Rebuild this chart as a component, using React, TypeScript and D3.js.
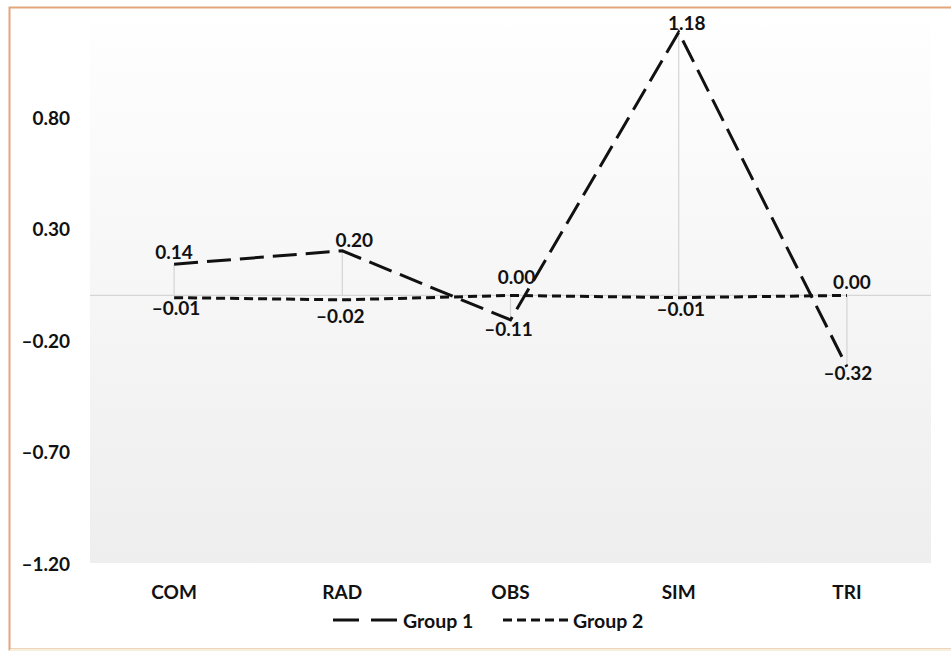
import React from "react";
import * as d3 from "d3";

// Categories, series values and axis ticks
const categories = ["COM", "RAD", "OBS", "SIM", "TRI"];
const group1 = [0.14, 0.2, -0.11, 1.18, -0.32];
const group2 = [-0.01, -0.02, 0.0, -0.01, 0.0];
const yTicks = [-1.2, -0.7, -0.2, 0.3, 0.8];
const seriesNames = ["Group 1", "Group 2"];

// Label nudges (dx, dy) so that labels sit clear of the lines
const g1LabelOffsets: [number, number][] = [[0, -13], [12, -11], [-2, 9], [8, -10], [1, 6]];
const g2LabelOffsets: [number, number][] = [[2, 10], [-2, 16], [6, -19], [2, 11], [5, -14]];

const W = 951;
const H = 652;
const plot = { left: 90, right: 931, top: 25, bottom: 563 };
const FONT = "Lato, 'Open Sans', sans-serif";

export default function App() {
  const x = d3.scaleBand<string>().domain(categories).range([plot.left, plot.right]);
  const cx = (c: string) => (x(c) as number) + x.bandwidth() / 2;
  const y = d3.scaleLinear().domain([-1.2, 0.8]).range([plot.bottom, 117]);

  const line = d3
    .line<number>()
    .x((_, i) => cx(categories[i]))
    .y((v) => y(v));

  const g1Dash = "24 9";
  const g2Dash = "9 5";
  const fmt = d3.format(".2f");
  const lbl = (v: number) => (v < 0 ? "\u2013" + fmt(-v) : fmt(v));

  return (
    <svg
      width={W}
      height={H}
      style={{ position: "absolute", left: 0, top: 0, background: "#fff" }}
      fontFamily={FONT}
    >
      <defs>
        <linearGradient id="plotBg" x1="0" y1="0" x2="0" y2="1">
          <stop offset="0" stopColor="#fefefe" />
          <stop offset="1" stopColor="#eeeeee" />
        </linearGradient>
      </defs>
      <rect x={0} y={0} width={W} height={H} fill="#fff" />
      {/* outer frame */}
      <rect x={9.5} y={7.5} width={W + 10} height={642} fill="none" stroke="#e3a67a" strokeWidth={2} />
      <line x1={10} x2={W} y1={650} y2={650} stroke="#f4f0dc" strokeWidth={2} />

      {/* plot area */}
      <rect
        x={plot.left}
        y={plot.top}
        width={plot.right - plot.left}
        height={plot.bottom - plot.top}
        fill="url(#plotBg)"
      />

      {/* zero line */}
      <line x1={plot.left} x2={plot.right} y1={y(0)} y2={y(0)} stroke="#d6d6d6" strokeWidth={1.2} />

      {/* drop lines */}
      {categories.map((c, i) => (
        <line key={c} x1={cx(c)} x2={cx(c)} y1={y(0)} y2={y(group1[i])} stroke="#d4d4d4" strokeWidth={1.2} />
      ))}

      {/* y axis labels */}
      {yTicks.map((t) => (
        <text
          key={t}
          x={70}
          y={y(t)}
          textAnchor="end"
          dominantBaseline="central"
          fontSize={19}
          fontWeight={700}
          fill="#111"
        >
          {t < 0 ? "\u2013" + fmt(-t) : fmt(t)}
        </text>
      ))}

      {/* x axis labels */}
      {categories.map((c) => (
        <text
          key={c}
          x={cx(c)}
          y={591}
          textAnchor="middle"
          dominantBaseline="central"
          fontSize={19}
          fontWeight={700}
          fill="#111"
        >
          {c}
        </text>
      ))}

      {/* series lines */}
      <path d={line(group2) as string} fill="none" stroke="#111" strokeWidth={3} strokeDasharray={g2Dash} />
      <path d={line(group1) as string} fill="none" stroke="#111" strokeWidth={3} strokeDasharray={g1Dash} />

      {/* data labels */}
      {group1.map((v, i) => (
        <text
          key={"g1" + i}
          x={cx(categories[i]) + g1LabelOffsets[i][0]}
          y={y(v) + g1LabelOffsets[i][1]}
          textAnchor="middle"
          dominantBaseline="central"
          fontSize={19}
          fontWeight={700}
          fill="#111"
        >
          {lbl(v)}
        </text>
      ))}
      {group2.map((v, i) => (
        <text
          key={"g2" + i}
          x={cx(categories[i]) + g2LabelOffsets[i][0]}
          y={y(v) + g2LabelOffsets[i][1]}
          textAnchor="middle"
          dominantBaseline="central"
          fontSize={19}
          fontWeight={700}
          fill="#111"
        >
          {lbl(v)}
        </text>
      ))}

      {/* legend */}
      <g>
        <line x1={333} x2={397} y1={620} y2={620} stroke="#111" strokeWidth={3} strokeDasharray="26 12" />
        <text x={403} y={620} dominantBaseline="central" fontSize={19.5} fontWeight={700} fill="#111">
          {seriesNames[0]}
        </text>
        <line x1={503} x2={568} y1={620} y2={620} stroke="#111" strokeWidth={3} strokeDasharray={g2Dash} />
        <text x={573} y={620} dominantBaseline="central" fontSize={19.5} fontWeight={700} fill="#111">
          {seriesNames[1]}
        </text>
      </g>
    </svg>
  );
}
